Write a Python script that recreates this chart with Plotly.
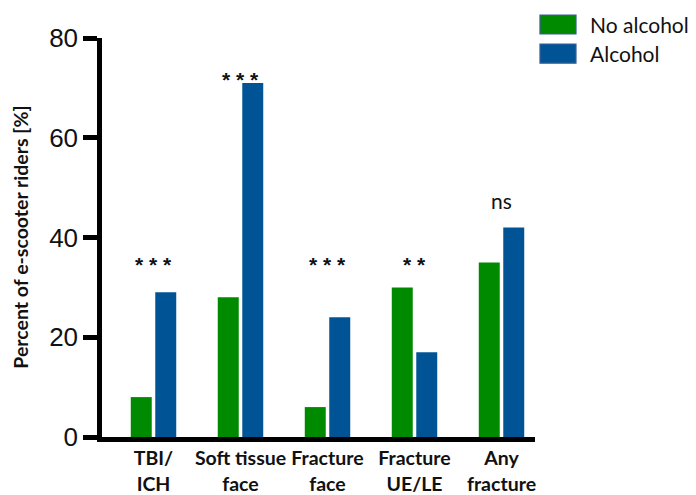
import plotly.graph_objects as go

# Injury categories (two-line tick labels)
categories = ["TBI/<br>ICH", "Soft tissue<br>face", "Fracture<br>face", "Fracture<br>UE/LE", "Any<br>fracture"]
no_alcohol = [8, 28, 6, 30, 35]
alcohol = [29, 71, 24, 17, 42]

# Significance markers above each group
sig_labels = ["* * *", "* * *", "* * *", "* *", "ns"]
sig_y = [34.5, 71.6, 34.5, 34.5, 47.4]

y_ticks = [0, 20, 40, 60, 80]

GREEN = "#008A00"
BLUE = "#005495"

fig = go.Figure()
fig.add_bar(x=categories, y=no_alcohol, name="No alcohol", marker_color=GREEN, marker_line_width=0)
fig.add_bar(x=categories, y=alcohol, name="Alcohol", marker_color=BLUE, marker_line_width=0)

for cat, lab, yv in zip(categories, sig_labels, sig_y):
    is_ns = lab == "ns"
    fig.add_annotation(
        x=cat, y=yv, text=lab, showarrow=False, yanchor="middle", xanchor="center",
        font=dict(family="Lato" if is_ns else "Liberation Sans", size=21 if is_ns else 21,
                  color="#111111", weight="normal" if is_ns else "bold"),
    )

# Y-axis title
fig.add_annotation(
    xref="paper", yref="paper", x=-0.189, y=0.5, text="Percent of e-scooter riders [%]",
    textangle=-90, showarrow=False, xanchor="center", yanchor="middle",
    font=dict(family="Lato", size=19.5, color="#111111", weight="bold"),
)

# Legend drawn as rounded swatches with labels
legend_items = [("No alcohol", GREEN), ("Alcohol", BLUE)]
legend_top = [1.0576, 0.985]
legend_bot = [1.010, 0.937]
for (name, col), y1, y0 in zip(legend_items, legend_top, legend_bot):
    fig.add_shape(
        type="rect", xref="paper", yref="paper", x0=1.0115, x1=1.0947, y0=y0, y1=y1,
        fillcolor=col, line=dict(color="#3B5E9A", width=1.2),
    )
    fig.add_annotation(
        xref="paper", yref="paper", x=1.1224, y=(y0 + y1) / 2, text=name, showarrow=False,
        xanchor="left", yanchor="middle", font=dict(family="Lato", size=21, color="#111111"),
    )

fig.update_layout(
    width=696, height=495,
    margin=dict(l=102, r=161, t=38, b=58),
    plot_bgcolor="white", paper_bgcolor="white",
    barmode="group", bargap=0.437, bargroupgap=0.143,
    showlegend=False,
)
fig.update_xaxes(
    range=[-0.592, 4.385], showline=True, linecolor="black", linewidth=4.5,
    ticks="", showgrid=False, zeroline=False, automargin=False,
    tickfont=dict(family="Lato", size=19.5, color="#111111", weight="bold"),
    ticklabelstandoff=0,
)
fig.update_yaxes(
    range=[0, 80], tickvals=y_ticks, showline=True, linecolor="black", linewidth=4.5,
    ticks="outside", ticklen=14, tickwidth=4.5, tickcolor="black",
    showgrid=False, zeroline=False, automargin=False,
    tickfont=dict(family="Liberation Sans", size=26, color="#111111"),
)

fig.write_html("out.html")
